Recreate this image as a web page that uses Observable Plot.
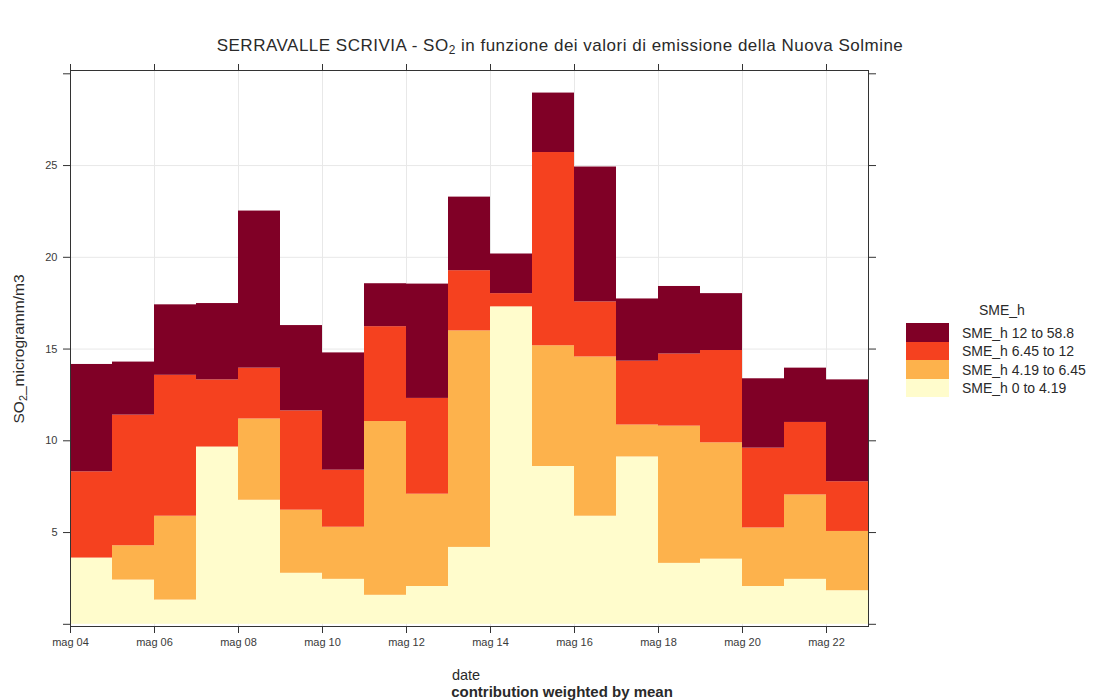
<!DOCTYPE html>
<html><head><meta charset="utf-8">
<script src="https://cdn.jsdelivr.net/npm/d3@7"></script>
<script src="https://cdn.jsdelivr.net/npm/@observablehq/plot@0.6"></script>
<style>
body{margin:0;background:#fff;font-family:"Liberation Sans",Arial,sans-serif;}
#wrap{position:relative;width:1105px;height:700px;overflow:hidden;}
#wrap svg{position:absolute;left:0;top:0;}
.t{position:absolute;white-space:nowrap;color:#2a2a2a;line-height:1;}
sub{font-size:70%;vertical-align:-0.25em;line-height:0;}
.sw{position:absolute;left:906px;width:43px;height:18.5px;}
</style></head><body><div id="wrap"></div>
<script>
// ---- data ----
const days = ["2013-05-04","2013-05-05","2013-05-06","2013-05-07","2013-05-08","2013-05-09","2013-05-10","2013-05-11","2013-05-12","2013-05-13","2013-05-14","2013-05-15","2013-05-16","2013-05-17","2013-05-18","2013-05-19","2013-05-20","2013-05-21","2013-05-22"];
const groups = ["SME_h 0 to 4.19","SME_h 4.19 to 6.45","SME_h 6.45 to 12","SME_h 12 to 58.8"];
const colors = ["#FFFCCC","#FDB24C","#F5411F","#800026"];
const sme0to4 = [3.61,2.41,1.32,9.66,6.76,2.78,2.45,1.58,2.06,4.19,17.30,8.60,5.89,9.12,3.32,3.55,2.06,2.45,1.83];
const sme4to6 = [0,1.87,4.57,0,4.43,3.44,2.84,9.47,5.03,11.80,0,6.58,8.68,1.74,7.48,6.34,3.19,4.60,3.23];
const sme6to12 = [4.70,7.12,7.68,3.66,2.77,5.41,3.11,5.17,5.22,3.28,0.72,10.53,3.00,3.48,3.93,5.03,4.35,3.95,2.71];
const sme12to59 = [5.85,2.89,3.84,4.16,8.56,4.65,6.39,2.34,6.23,4.01,2.16,3.24,7.35,3.39,3.68,3.10,3.78,2.96,5.55];
const xTickDates = ["2013-05-04","2013-05-06","2013-05-08","2013-05-10","2013-05-12","2013-05-14","2013-05-16","2013-05-18","2013-05-20","2013-05-22"];
const xTickLabels = ["mag 04","mag 06","mag 08","mag 10","mag 12","mag 14","mag 16","mag 18","mag 20","mag 22"];
const yTicks = [0,5,10,15,20,25,30];
const yTickLabels = ["","5","10","15","20","25",""];

// ---- build table ----
const series = [sme0to4, sme4to6, sme6to12, sme12to59];
const DAY = 864e5;
const rows = [];
days.forEach((d, i) => {
  const x1 = new Date(d);
  const x2 = new Date(+x1 + DAY);
  groups.forEach((g, k) => rows.push({x1, x2, group: g, value: series[k][i]}));
});
const tickDates = xTickDates.map(d => new Date(d));
const xLab = new Map(tickDates.map((d, i) => [+d, xTickLabels[i]]));
const yLab = new Map(yTicks.map((v, i) => [v, yTickLabels[i]]));

const chart = Plot.plot({
  width: 1105, height: 700,
  marginLeft: 70, marginRight: 237, marginTop: 70, marginBottom: 74,
  style: {fontFamily: "Liberation Sans, Arial, sans-serif", fontSize: "11px", color: "#3a3a3a", background: "transparent"},
  x: {type: "utc", domain: [new Date(days[0]), new Date(+new Date(days[days.length-1]) + DAY)]},
  y: {domain: [-0.12, 30.18]},
  color: {domain: groups, range: colors},
  marks: [
    Plot.gridX(tickDates, {stroke: "#e8e8e8", strokeOpacity: 1}),
    Plot.gridY([5,10,15,20,25], {stroke: "#e8e8e8", strokeOpacity: 1}),
    Plot.rectY(rows, {x1: "x1", x2: "x2", y: "value", fill: "group", order: groups}),
    Plot.axisX(tickDates, {anchor: "bottom", tickSize: 7, tickPadding: 5, tickFormat: d => xLab.get(+d), label: null, stroke: "#333"}),
    Plot.axisX(tickDates, {anchor: "top", tickSize: 7, tickFormat: () => "", label: null, stroke: "#333"}),
    Plot.axisY(yTicks, {anchor: "left", tickSize: 7, tickPadding: 6, tickFormat: v => yLab.get(v), label: null, stroke: "#333"}),
    Plot.axisY(yTicks, {anchor: "right", tickSize: 7, tickFormat: () => "", label: null, stroke: "#333"}),
    Plot.frame({stroke: "#333"})
  ]
});
const wrap = document.getElementById("wrap");
wrap.appendChild(chart);

function addText(html, css) {
  const el = document.createElement("div");
  el.className = "t";
  el.innerHTML = html;
  Object.assign(el.style, css);
  wrap.appendChild(el);
  return el;
}
addText("SERRAVALLE SCRIVIA - SO<sub>2</sub> in funzione dei valori di emissione della Nuova Solmine",
  {left: "560px", top: "37px", fontSize: "17px", letterSpacing: "0.5px", transform: "translateX(-50%)"});
addText("SO<sub>2</sub>_microgramm/m3",
  {left: "19px", top: "349px", fontSize: "15.5px", transform: "translate(-50%,-50%) rotate(-90deg)"});
addText("date", {left: "466px", top: "668px", fontSize: "14.5px", transform: "translateX(-50%)"});
addText("contribution weighted by mean", {left: "562px", top: "684px", fontSize: "15px", fontWeight: "bold", transform: "translateX(-50%)"});

// legend
addText("SME_h", {left: "979px", top: "303px", fontSize: "14px"});
const legendOrder = [3,2,1,0];
legendOrder.forEach((k, j) => {
  const top = 323 + j*18.5;
  const sw = document.createElement("div");
  sw.className = "sw";
  sw.style.top = top + "px";
  sw.style.background = colors[k];
  wrap.appendChild(sw);
  addText(groups[k], {left: "962px", top: (top + 2.5) + "px", fontSize: "14px"});
});
</script>
</body></html>
